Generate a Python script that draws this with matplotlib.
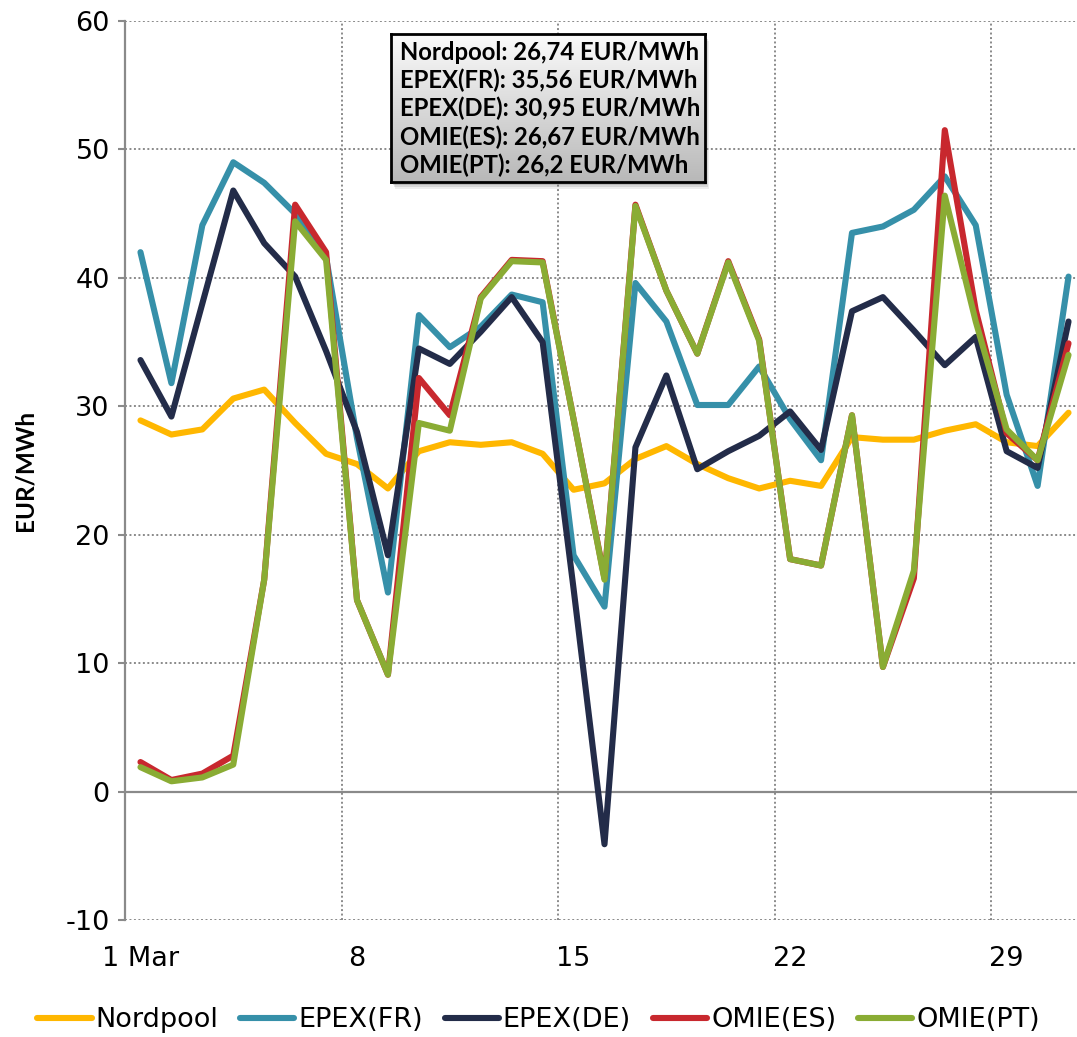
import numpy as np
import matplotlib
matplotlib.use("Agg")
import matplotlib.pyplot as plt
from matplotlib.patches import Rectangle

plt.rcParams["font.family"] = ["DejaVu Sans"]
plt.rcParams["axes.unicode_minus"] = False

days = list(range(1, 32))
tick_days = [1, 8, 15, 22, 29]
tick_labels = ["1 Mar", "8", "15", "22", "29"]

nordpool = [28.9, 27.8, 28.2, 30.6, 31.3, 28.7, 26.3, 25.5, 23.6, 26.5, 27.2,
            27.0, 27.2, 26.3, 23.5, 24.0, 25.9, 26.9, 25.5, 24.4, 23.6, 24.2,
            23.8, 27.6, 27.4, 27.4, 28.1, 28.6, 27.2, 26.9, 29.5]
epex_fr = [42.0, 31.8, 44.1, 49.0, 47.4, 45.0, 41.6, 27.5, 15.5, 37.1, 34.6,
           36.2, 38.7, 38.1, 18.4, 14.4, 39.6, 36.6, 30.1, 30.1, 33.1, 29.0,
           25.8, 43.5, 44.0, 45.3, 47.9, 44.1, 30.9, 23.8, 40.1]
epex_de = [33.6, 29.2, 38.0, 46.8, 42.7, 40.1, 34.3, 28.0, 18.4, 34.5, 33.3,
           35.8, 38.5, 35.0, 15.8, -4.1, 26.8, 32.4, 25.1, 26.5, 27.7, 29.6,
           26.6, 37.4, 38.5, 35.9, 33.2, 35.4, 26.5, 25.2, 36.6]
omie_es = [2.3, 0.9, 1.4, 2.8, 16.5, 45.7, 42.0, 14.9, 9.1, 32.2, 29.3,
           38.5, 41.4, 41.3, 29.0, 16.6, 45.7, 39.0, 34.1, 41.3, 35.2, 18.1,
           17.6, 29.3, 9.7, 16.6, 51.5, 37.5, 27.9, 25.8, 34.9]
omie_pt = [1.9, 0.8, 1.1, 2.1, 16.5, 44.4, 41.4, 14.9, 9.1, 28.7, 28.1,
           38.4, 41.3, 41.2, 29.0, 16.5, 45.6, 39.0, 34.1, 41.2, 35.1, 18.1,
           17.6, 29.3, 9.7, 17.2, 46.4, 36.6, 28.2, 25.8, 34.0]

names = ["Nordpool", "EPEX(FR)", "EPEX(DE)", "OMIE(ES)", "OMIE(PT)"]
averages = [26.74, 35.56, 30.95, 26.67, 26.2]
colors = ["#FFB700", "#3690A9", "#232C49", "#C8282E", "#8AAC34"]
series = [nordpool, epex_fr, epex_de, omie_es, omie_pt]

fig = plt.figure(figsize=(10.77, 10.37), dpi=100)
W, H = 1077, 1037
# plot area in pixels: left 125, top 21, bottom 920, right past the edge
ax = fig.add_axes([125 / W, 1 - 920 / H, (1084 - 125) / W, (920 - 21) / H])

for vals, col, name in zip(series, colors, names):
    ax.plot(days, vals, color=col, lw=4.4, label=name,
            solid_capstyle="round", solid_joinstyle="round", zorder=3)

ax.set_xlim(0.5, 31.5)
ax.set_ylim(-10, 60)
ax.set_yticks(range(-10, 61, 10))
ax.set_xticks(tick_days)
ax.set_xticklabels(tick_labels)
ax.set_xticks([7.5, 14.5, 21.5, 28.5], minor=True)

grid_kw = dict(color="#8a8a8a", linestyle=(0, (1, 1.3)), linewidth=1.4)
ax.yaxis.grid(True, **grid_kw)
ax.xaxis.grid(True, which="minor", **grid_kw)
ax.xaxis.grid(False, which="major")
ax.axhline(0, color="#8a8a8a", lw=1.6, zorder=2)
ax.set_axisbelow(True)

for s in ["top", "right", "bottom"]:
    ax.spines[s].set_visible(False)
ax.spines["left"].set_color("#8a8a8a")
ax.spines["left"].set_linewidth(1.6)

ax.tick_params(axis="y", direction="out", length=5, width=1.5, color="#8a8a8a",
               labelsize=19.5, pad=6)
ax.tick_params(axis="x", which="both", length=0, labelsize=19.5, pad=19)

fig.text(25 / W, 1 - 470 / H, "EUR/MWh", rotation=90, fontsize=17.5,
         fontweight="bold", ha="center", va="center", family="Lato")

# legend at the bottom
fig.legend(loc="center", bbox_to_anchor=(0.5, 1 - 1020 / H), ncol=5,
           frameon=False, fontsize=19.5, handlelength=2.0, handletextpad=0.15,
           columnspacing=0.8, borderaxespad=0)

# averages box with gradient fill and shadow
bx0, by0, bx1, by1 = 391, 34, 705, 182
for k, a in zip([7, 5, 3], [0.10, 0.15, 0.22]):
    fig.patches.append(Rectangle((bx0 / W + k / W * 0.6, 1 - (by1 + k) / H),
                                 (bx1 - bx0) / W, (by1 - by0) / H,
                                 transform=fig.transFigure, facecolor="#555555",
                                 edgecolor="none", alpha=a, zorder=5))
bax = fig.add_axes([bx0 / W, 1 - by1 / H, (bx1 - bx0) / W, (by1 - by0) / H],
                   zorder=10)
grad = np.linspace(0, 1, 256).reshape(-1, 1)
bax.imshow(grad, aspect="auto", cmap=matplotlib.colors.LinearSegmentedColormap
           .from_list("g", ["#fbfbfb", "#b8b8b8"]), extent=(0, 1, 0, 1))
bax.set_xticks([])
bax.set_yticks([])
for s in bax.spines.values():
    s.set_color("black")
    s.set_linewidth(2)

line_y = [52, 80, 108, 137, 165]
for name, avg, yy in zip(names, averages, line_y):
    txt = f"{name}: {str(avg).replace('.', ',')} EUR/MWh"
    bax.text((400 - bx0) / (bx1 - bx0), (by1 - yy) / (by1 - by0), txt,
             fontsize=17.2, fontweight="bold", ha="left", va="center",
             family="Lato")

fig.savefig("out.png", dpi=100)
